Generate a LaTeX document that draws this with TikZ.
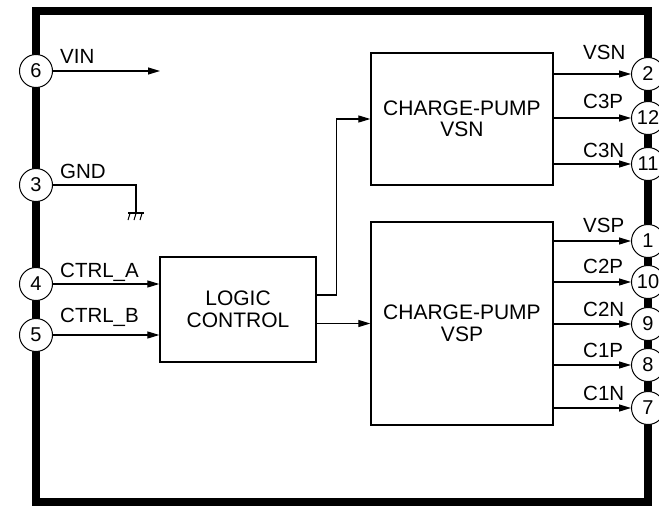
\documentclass[tikz,border=0pt]{standalone}
\usepackage{fontspec}
\setmainfont{Liberation Sans}
\usetikzlibrary{arrows.meta}
\begin{document}
\begin{tikzpicture}[x=1pt,y=-1pt,
  font=\fontsize{20.5}{21}\selectfont,
  pin/.style={circle, draw, fill=white, line width=1pt, minimum size=33pt, inner sep=0pt, font=\fontsize{20}{20}\selectfont},
  blk/.style={draw, line width=1.3pt, align=center, inner sep=0pt, font=\fontsize{21}{21.5}\selectfont},
  sig/.style={line width=1.2pt, -{Triangle[length=12pt,width=7pt]}},
  wire/.style={line width=1.2pt},
  lbl/.style={anchor=base west, inner sep=0pt}]
\clip (0,0) rectangle (659,506);
\fill[white] (0,0) rectangle (659,506);
% outer frame
\draw[line width=8pt, line join=miter] (36,11) rectangle (648,502);
% blocks
\node[blk, minimum width=156pt, minimum height=105pt] (logic) at (238,309.5) {LOGIC\\CONTROL};
\node[blk, minimum width=182pt, minimum height=132pt] (vsn) at (462,119) {CHARGE-PUMP\\VSN};
\node[blk, minimum width=182pt, minimum height=203pt] (vsp) at (462,323.5) {CHARGE-PUMP\\VSP};
% left pins
\node[pin] (p6) at (36,71) {6};
\node[pin] (p3) at (36,185) {3};
\node[pin] (p4) at (36,284) {4};
\node[pin] (p5) at (36,335) {5};
% right pins
\node[pin] (p2) at (648,74) {2};
\node[pin] (p12) at (648,118) {12};
\node[pin] (p11) at (648,164) {11};
\node[pin] (p1) at (648,241) {1};
\node[pin] (p10) at (648,282) {10};
\node[pin] (p9) at (648,324) {9};
\node[pin] (p8) at (648,365) {8};
\node[pin] (p7) at (648,408) {7};
% left labels
\node[lbl] (lvin) at (60,63) {VIN};
\node[lbl] (lgnd) at (60,178) {GND};
\node[lbl] (lca) at (60,277) {CTRL\_A};
\node[lbl] (lcb) at (60,322) {CTRL\_B};
% right labels
\node[lbl] (lvsn) at (583,59) {VSN};
\node[lbl] (lc3p) at (583,108) {C3P};
\node[lbl] (lc3n) at (583,157) {C3N};
\node[lbl] (lvsp) at (583,232) {VSP};
\node[lbl] (lc2p) at (583,273) {C2P};
\node[lbl] (lc2n) at (583,316) {C2N};
\node[lbl] (lc1p) at (583,357) {C1P};
\node[lbl] (lc1n) at (583,400) {C1N};
% VIN
\coordinate (vinend) at (160,71);
\draw[sig] (p6) -- (vinend);
% GND
\coordinate (gnd) at (136,213);
\draw[wire] (p3) -- (gnd |- p3) -- (gnd);
\draw[line width=1.2pt] (128,213) -- (144,213);
\draw[line width=1pt] (130,213.5) -- (128,220) (136,213.5) -- (134,220) (142,213.5) -- (140,220);
% control inputs
\draw[sig] (p4) -- (p4 -| logic.west);
\draw[sig] (p5) -- (p5 -| logic.west);
% logic outputs
\draw[sig] ([yshift=14.5pt]logic.east) -- ++(20,0) |- (vsn.west);
\draw[sig] (logic.east |- vsp.west) -- (vsp.west);
% VSN outputs
\draw[sig] (vsn.east |- p2) -- (p2);
\draw[sig] (vsn.east |- p12) -- (p12);
\draw[sig] (vsn.east |- p11) -- (p11);
% VSP outputs
\draw[sig] (vsp.east |- p1) -- (p1);
\draw[sig] (vsp.east |- p10) -- (p10);
\draw[sig] (vsp.east |- p9) -- (p9);
\draw[sig] (vsp.east |- p8) -- (p8);
\draw[sig] (vsp.east |- p7) -- (p7);
\end{tikzpicture}
\end{document}
